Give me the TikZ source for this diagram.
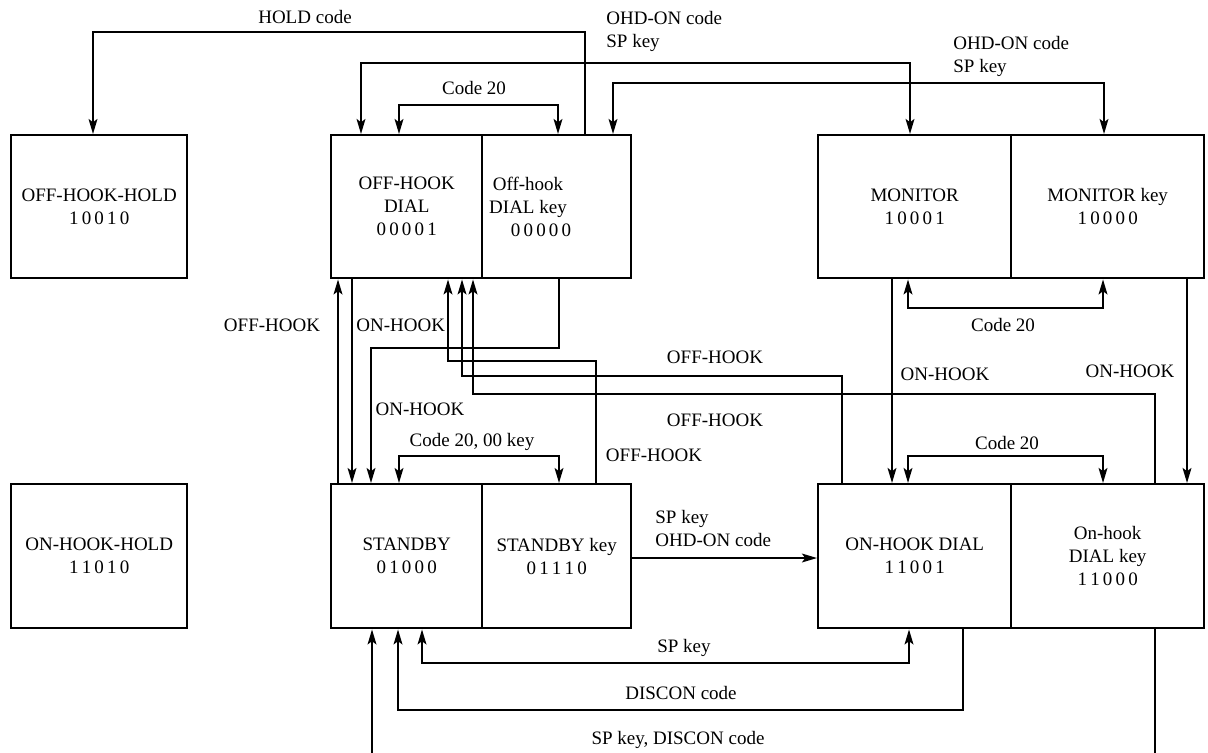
\documentclass[tikz,border=0pt]{standalone}
\usepackage{fontspec}
\setmainfont{Liberation Serif}
\usetikzlibrary{arrows.meta}
\begin{document}
\begin{tikzpicture}[x=0.5pt,y=-0.5pt,
  txt/.style={font=\fontsize{9.5}{11.5}\selectfont},
  box/.style={txt,draw,line width=1.2pt,inner sep=0pt,align=center,anchor=north west},
  conn/.style={line width=1pt},
  tip/.tip={Stealth[length=7.5pt,width=4.4pt,inset=1.6pt]},
  arr/.style={conn,-tip},
  darr/.style={conn,tip-tip},
  lbl/.style={txt,inner sep=0pt,align=center},
  lbll/.style={lbl,align=left,anchor=west}]
\useasboundingbox (0,0) rectangle (1208,752);
% boxes, top row
\node[box,minimum width=88pt,minimum height=71.5pt] (offhold) at (10,134) {OFF-HOOK-HOLD\\1\,0\,0\,1\,0};
\node[box,minimum width=75.5pt,minimum height=71.5pt] (ohd) at (330,134) {OFF-HOOK\\DIAL\\0\,0\,0\,0\,1};
\node[box,minimum width=74.5pt,minimum height=71.5pt] (ohdk) at (481,134) {};
\node[lbl] (ohdkt) at (528,207) {Off-hook\\DIAL key\\\hspace*{13pt}0\,0\,0\,0\,0};
\node[box,minimum width=96.5pt,minimum height=71.5pt] (mon) at (817,134) {MONITOR\\1\,0\,0\,0\,1};
\node[box,minimum width=96.5pt,minimum height=71.5pt] (monk) at (1010,134) {MONITOR key\\1\,0\,0\,0\,0};
% boxes, bottom row
\node[box,minimum width=88pt,minimum height=72pt] (onhold) at (10,483) {ON-HOOK-HOLD\\1\,1\,0\,1\,0};
\node[box,minimum width=75.5pt,minimum height=72pt] (stby) at (330,483) {STANDBY\\0\,1\,0\,0\,0};
\node[box,minimum width=74.5pt,minimum height=72pt] (stbyk) at (481,483) {STANDBY key\\0\,1\,1\,1\,0};
\node[box,minimum width=96.5pt,minimum height=72pt] (ohdial) at (817,483) {ON-HOOK DIAL\\1\,1\,0\,0\,1};
\node[box,minimum width=96.5pt,minimum height=72pt] (ohdk2) at (1010,483) {On-hook\\DIAL key\\1\,1\,0\,0\,0};
% top connectors
\draw[arr] (585,0 |- ohdk.north) |- (93,32) -- (93,0 |- offhold.north);
\node[lbl] (l1) at (305,17) {HOLD code};
\draw[darr] (361,0 |- ohd.north) |- (910,63) -- (910,0 |- mon.north);
\node[lbll] (l2) at (606,31) {OHD-ON code\\SP key};
\draw[darr] (613,0 |- ohdk.north) |- (1104,83) -- (1104,0 |- monk.north);
\node[lbll] (l3) at (953,56) {OHD-ON code\\SP key};
\draw[darr] (399,0 |- ohd.north) |- (558,105) -- (558,0 |- ohdk.north);
\node[lbl] (l4) at (474,88) {Code 20};
% middle left
\draw[arr] (338,0 |- stby.north) -- (338,0 |- ohd.south);
\node[lbl] (l5) at (272,325) {OFF-HOOK};
\draw[arr] (352,0 |- ohd.south) -- (352,0 |- stby.north);
\node[lbll] (l6) at (356,325) {ON-HOOK};
\draw[arr] (559,0 |- ohdk.south) |- (371,348) -- (371,0 |- stby.north);
\node[lbl] (l7) at (420,409) {ON-HOOK};
\draw[arr] (596,0 |- stbyk.north) |- (448,361) -- (448,0 |- ohd.south);
\node[lbl] (l8) at (654,455) {OFF-HOOK};
\draw[arr] (842,0 |- ohdial.north) |- (462,376) -- (462,0 |- ohd.south);
\node[lbl] (l9) at (715,357) {OFF-HOOK};
\draw[arr] (1155,0 |- ohdk2.north) |- (473,394) -- (473,0 |- ohd.south);
\node[lbl] (l10) at (715,420) {OFF-HOOK};
\draw[darr] (399,0 |- stby.north) |- (559,456) -- (559,0 |- stbyk.north);
\node[lbl] (l11) at (472,442) {Code 20, 00 key};
% middle right
\draw[arr] (892,0 |- mon.south) -- (892,0 |- ohdial.north);
\node[lbl] (l12) at (945,374) {ON-HOOK};
\draw[darr] (908,0 |- mon.south) |- (1103,308) -- (1103,0 |- monk.south);
\node[lbl] (l13) at (1003,325) {Code 20};
\draw[arr] (1187,0 |- monk.south) -- (1187,0 |- ohdk2.north);
\node[lbl] (l14) at (1130,371) {ON-HOOK};
\draw[darr] (908,0 |- ohdial.north) |- (1103,456) -- (1103,0 |- ohdk2.north);
\node[lbl] (l15) at (1007,443) {Code 20};
% standby key -> on-hook dial
\draw[arr] (stbyk.east |- 0,558) -- (ohdial.west |- 0,558);
\node[lbll] (l16) at (655,528) {SP key\\OHD-ON code};
% bottom connectors
\draw[darr] (422,0 |- stby.south) |- (909,663) -- (909,0 |- ohdial.south);
\node[lbl] (l17) at (684,648) {SP key};
\draw[arr] (963,0 |- ohdial.south) |- (398,710) -- (398,0 |- stby.south);
\node[lbl] (l18) at (681,693) {DISCON code};
\draw[arr] (1155,0 |- ohdk2.south) |- (372,770) -- (372,0 |- stby.south);
\node[lbl] (l19) at (678,740) {SP key, DISCON code};
\end{tikzpicture}
\end{document}
